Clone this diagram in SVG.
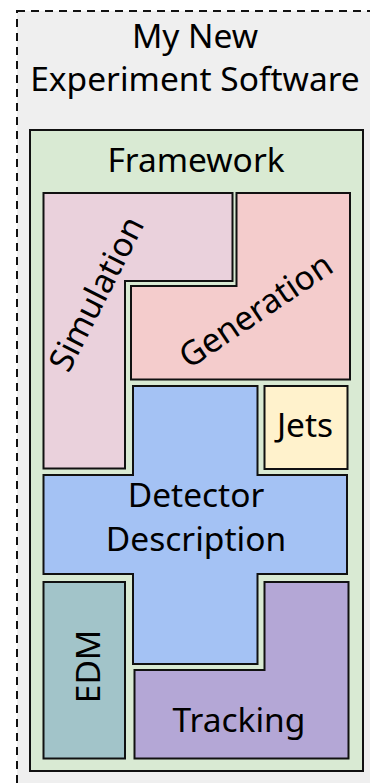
<svg xmlns="http://www.w3.org/2000/svg" width="370" height="783" viewBox="0 0 370 783">
<style>
.s{stroke:#111;stroke-width:2;stroke-linejoin:miter}
.t{font-family:"Noto Sans","Open Sans",sans-serif;font-size:33.5px;fill:#000;text-anchor:middle}
</style>
<rect x="0" y="0" width="370" height="783" fill="#ffffff"/>
<g id="software">
<rect x="17" y="11" width="370" height="800" fill="#efefef" stroke="#111" stroke-width="2" stroke-dasharray="8 6"/>
<text class="t" x="195" y="48">My New</text>
<text class="t" x="195" y="91">Experiment Software</text>
</g>
<g id="framework">
<rect class="s" x="30" y="130" width="333" height="641" fill="#d9ead3"/>
<text class="t" x="196" y="172">Framework</text>
</g>
<g id="simulation">
<path class="s" d="M43.5,193 H232.5 V281 H125 V468.5 H43.5 Z" fill="#ead1dc"/>
<text class="t" transform="translate(97,294) rotate(-63)" y="11">Simulation</text>
</g>
<g id="generation">
<path class="s" d="M236.5,193 H350 V379.5 H131 V286 H236.5 Z" fill="#f4cccc"/>
<text class="t" transform="translate(256,311) rotate(-34)" y="11">Generation</text>
</g>
<g id="detector">
<path class="s" d="M133,386 H257.5 V475 H347 V574 H257.5 V664 H133 V574 H43.5 V475 H133 Z" fill="#a4c2f4"/>
<text class="t" x="196" y="507">Detector</text>
<text class="t" x="196" y="551">Description</text>
</g>
<g id="jets">
<rect class="s" x="264.5" y="386" width="83" height="83" fill="#fff2cc"/>
<text class="t" x="305" y="437">Jets</text>
</g>
<g id="edm">
<rect class="s" x="43.5" y="582" width="81.5" height="176.5" fill="#a2c4c9"/>
<text class="t" transform="translate(100,666.5) rotate(-90)">EDM</text>
</g>
<g id="tracking">
<path class="s" d="M264.5,582 H348.5 V758.5 H134.5 V670 H264.5 Z" fill="#b4a7d6"/>
<text class="t" x="239" y="732">Tracking</text>
</g>
<g id="connectors"></g>
</svg>
